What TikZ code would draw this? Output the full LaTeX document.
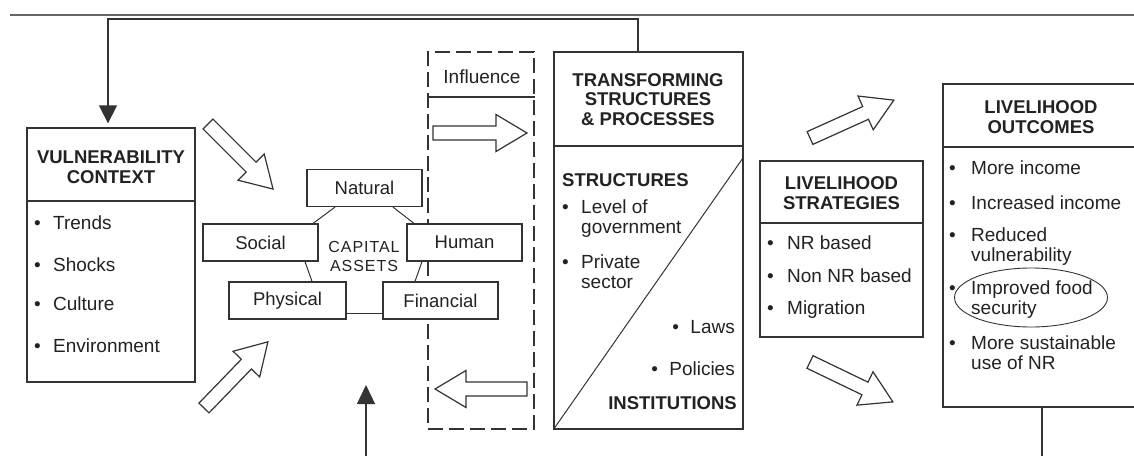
\documentclass[tikz,border=0pt]{standalone}
\usepackage{fontspec}
\setmainfont{Liberation Sans}
\usetikzlibrary{shapes.geometric,arrows.meta,calc}
\definecolor{ln}{HTML}{333333}
\definecolor{tx}{HTML}{222222}
\newcommand\bul[1][19pt]{\makebox[#1][l]{•}}
\newcommand\hollowarrow[3]{%
  \begin{scope}[shift={#1},rotate=#2]
    \draw[hollow] (0,-7) -- (#3-31,-7) -- (#3-31,-18.5) -- (#3,0) -- (#3-31,18.5) -- (#3-31,7) -- (0,7) -- cycle;
  \end{scope}}
\tikzset{
  box/.style={draw=ln, line width=1.3pt, rectangle, inner sep=0pt, fill=white},
  txt/.style={text=tx, inner sep=0pt, font=\fontsize{19}{20}\selectfont, align=left},
  hd/.style={text=tx, inner sep=0pt, font=\fontsize{18.5}{19.5}\selectfont\bfseries, align=center},
  conn/.style={draw=ln, line width=1.3pt},
  thin/.style={draw=ln, line width=1pt},
  hollow/.style={draw=ln, line width=1.2pt, fill=white, line join=miter},
  capbox/.style={draw=ln, line width=1.2pt, fill=white, minimum width=115pt, minimum height=37pt, inner sep=0pt, text=tx, font=\fontsize{18.5}{20}\selectfont},
}
\begin{document}
\begin{tikzpicture}[x=1pt,y=-1pt]
\useasboundingbox (0,0) rectangle (1134,455);
\clip (0,0) rectangle (1134,455);
\fill[white] (0,0) rectangle (1134,455);

% top rule
\coordinate (ruleL) at (10,15);
\coordinate (ruleR) at (1140,15);
\draw[draw=black!60, line width=1.2pt] (ruleL) -- (ruleR);

% main boxes
\node[box, minimum width=168pt, minimum height=254pt] (vc) at (111,255) {};
\node[box, minimum width=189pt, minimum height=377pt] (tsp) at (648.5,240.5) {};
\node[box, minimum width=163pt, minimum height=176pt] (ls) at (841.5,249) {};
\node[box, minimum width=196pt, minimum height=323pt] (lo) at (1041,245.5) {};
\node[draw=ln, line width=1.3pt, dash pattern=on 15pt off 6pt, minimum width=106pt, minimum height=377pt, inner sep=0pt] (infl) at (481,240.5) {};

% dividers
\draw[conn] (vc.west |- 0,201) -- (vc.east |- 0,201);
\draw[conn] (tsp.west |- 0,146) -- (tsp.east |- 0,146);
\draw[conn] (ls.west |- 0,223) -- (ls.east |- 0,223);
\draw[conn] (lo.west |- 0,147) -- (lo.east |- 0,147);
\draw[conn] (infl.west |- 0,97) -- (infl.east |- 0,97);
\draw[thin] (tsp.south west) -- (tsp.east |- 0,157);

% feedback arrow
\coordinate (fbR) at (638,19);
\coordinate (fbL) at (108,19);
\draw[conn, -{Triangle[width=18pt,length=18pt]}, shorten >=4pt] (tsp.north -| fbR) -- (fbR) -- (fbL) -- (vc.north -| fbL);

% bottom arrow and line
\coordinate (upB) at (366,460);
\coordinate (upT) at (366,385);
\draw[conn, -{Triangle[width=18pt,length=19pt]}] (upB) -- (upT);
\coordinate (loB) at (1042,460);
\draw[conn] (lo.south -| loB) -- (loB);

% headings
\node[hd] (vct) at (111,167) {VULNERABILITY\\CONTEXT};
\node[hd] (tspt) at (648,99.5) {TRANSFORMING\\STRUCTURES\\\& PROCESSES};
\node[hd] (lst) at (841.5,193) {LIVELIHOOD\\STRATEGIES};
\node[hd] (lot) at (1041,117) {LIVELIHOOD\\OUTCOMES};
\node[txt] (inft) at (482,77) {Influence};

% VC items
\node[txt, anchor=base west] (vc1) at (34,229.5) {\bul Trends};
\node[txt, anchor=base west] (vc2) at (34,271.5) {\bul Shocks};
\node[txt, anchor=base west] (vc3) at (34,310.5) {\bul Culture};
\node[txt, anchor=base west] (vc4) at (34,352.5) {\bul Environment};

% TSP items (two-line nodes: base = last line)
\node[txt, anchor=base west, font=\fontsize{18.5}{20}\selectfont\bfseries] (str) at (562,186.5) {STRUCTURES};
\node[txt, anchor=base west] (t1) at (562,233.5) {\bul Level of\\\hspace*{19pt}government};
\node[txt, anchor=base west] (t2) at (562,288) {\bul Private\\\hspace*{19pt}sector};
\node[txt, anchor=base east] (t3) at (735,333.5) {\bul[18pt]Laws};
\node[txt, anchor=base east] (t4) at (735,375.5) {\bul[18pt]Policies};
\node[txt, anchor=base east, font=\fontsize{18.5}{20}\selectfont\bfseries] (inst) at (737,409.5) {INSTITUTIONS};

% LS items
\node[txt, anchor=base west] (s1) at (767,249.5) {\bul[20pt]NR based};
\node[txt, anchor=base west] (s2) at (767,282.5) {\bul[20pt]Non NR based};
\node[txt, anchor=base west] (s3) at (767,314.5) {\bul[20pt]Migration};

% LO items
\node[txt, anchor=base west] (o1) at (949,174.5) {\bul[22pt]More income};
\node[txt, anchor=base west] (o2) at (949,209.5) {\bul[22pt]Increased income};
\node[txt, anchor=base west] (o3) at (949,261.5) {\bul[22pt]Reduced\\\hspace*{22pt}vulnerability};
\node[txt, anchor=base west] (o4) at (949,314.5) {\bul[22pt]Improved food\\\hspace*{22pt}security};
\node[txt, anchor=base west] (o5) at (949,369.5) {\bul[22pt]More sustainable\\\hspace*{22pt}use of NR};
\node[draw=ln, line width=0.9pt, ellipse, minimum width=153pt, minimum height=59pt, inner sep=0pt] (ell) at (1031,297.5) {};

% capital assets
\node[capbox] (nat) at (364.5,188) {Natural};
\node[capbox] (soc) at (260.5,242.5) {Social};
\node[capbox] (hum) at (464.5,242.5) {Human};
\node[capbox, minimum width=117pt] (phy) at (287.5,300.5) {Physical};
\node[capbox] (fin) at (440.5,300.5) {Financial};
\draw[thin] (nat.south -| 335,0) -- (soc.north -| 313,0);
\draw[thin] (nat.south -| 393,0) -- (hum.north -| 414,0);
\draw[thin] (soc.south -| 305,0) -- (phy.north -| 312,0);
\draw[thin] (hum.south -| 422,0) -- (fin.north -| 415,0);
\draw[thin] (phy.east |- 0,313) -- (fin.west |- 0,313);
\node[text=tx, inner sep=0pt, align=center, font=\fontsize{16}{19}\selectfont\addfontfeature{LetterSpace=6}] (capt) at (364,256) {CAPITAL\\ASSETS};

% hollow block arrows
\hollowarrow{(208,124)}{-45}{92}
\hollowarrow{(204,408)}{46}{92}
\hollowarrow{(433,133)}{0}{94}
\hollowarrow{(527,389)}{180}{92}
\hollowarrow{(810,138)}{24.3}{92}
\hollowarrow{(810,362)}{-25.7}{92}
\end{tikzpicture}
\end{document}
